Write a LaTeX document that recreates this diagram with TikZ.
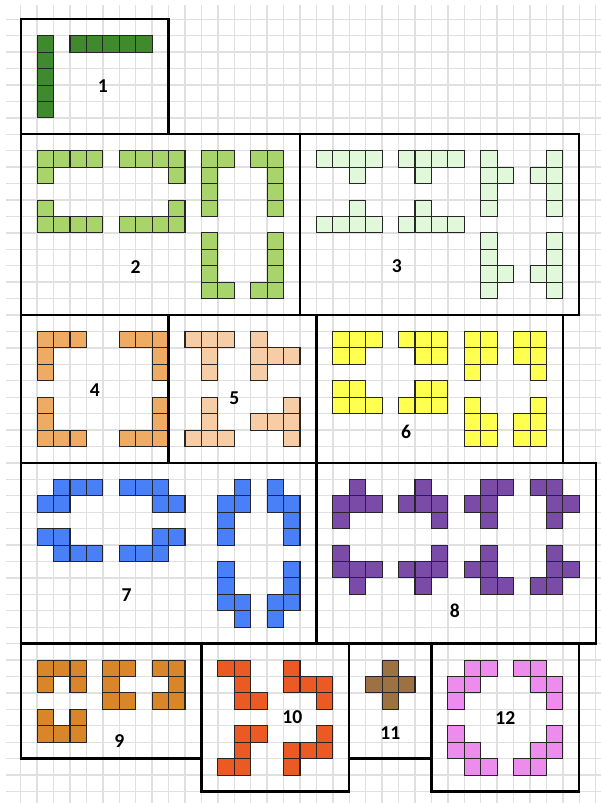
\documentclass[tikz,border=0pt]{standalone}
\usepackage{fontspec}
\setmainfont{Carlito}
\usepackage{xcolor}
\usepackage{tikz}
\usetikzlibrary{positioning}

\definecolor{pcOne}{HTML}{3E8A2C}
\definecolor{pcTwo}{HTML}{A9D36B}
\definecolor{pcThree}{HTML}{E2F8DA}
\definecolor{pcFour}{HTML}{EEAB64}
\definecolor{pcFive}{HTML}{F6CDA6}
\definecolor{pcSix}{HTML}{FFFF4F}
\definecolor{pcSeven}{HTML}{4A80F7}
\definecolor{pcEight}{HTML}{7A4CA8}
\definecolor{pcNine}{HTML}{D9862A}
\definecolor{pcTen}{HTML}{EC5A24}
\definecolor{pcEleven}{HTML}{9C7243}
\definecolor{pcTwelve}{HTML}{EE8CEE}

\begin{document}
\begin{tikzpicture}[x=0.5cm, y=-0.5cm,
    gridline/.style={line width=1.2pt, black!12},
    framebox/.style={line width=2pt, black},
    cellbox/.style={line width=0.9pt, draw=black!85},
    boxlabel/.style={font=\fontsize{17}{17}\selectfont\bfseries, inner sep=0pt}]

  \useasboundingbox (-1.26,-1.175) rectangle (35.32,47.70);

  %% ── Background grid ────────────────────────────────────────
  \foreach \r in {0,...,47}
    \draw[gridline] (-0.9,\r) -- (35.32,\r);
  \foreach \c in {0,...,35}
    \draw[gridline] (\c,-0.87) -- (\c,47.70);

  %% ── Box 1: I pieces ────────────────────────────────────────
  \foreach \c/\r in {1/1,1/2,1/3,1/4,1/5, 3/1,4/1,5/1,6/1,7/1}
    \filldraw[cellbox, fill=pcOne] (\c,\r) rectangle ++(1,1);
  \node[boxlabel] (lab1) at (5.0,4.06) {1};

  %% ── Box 2: L pieces ────────────────────────────────────────
  \foreach \c/\r in {1/8,2/8,3/8,4/8,1/9,  6/8,7/8,8/8,9/8,9/9,
                     1/11,1/12,2/12,3/12,4/12,  9/11,6/12,7/12,8/12,9/12,
                     11/8,12/8,11/9,11/10,11/11,  14/8,15/8,15/9,15/10,15/11,
                     11/13,11/14,11/15,11/16,12/16,  15/13,15/14,15/15,15/16,14/16}
    \filldraw[cellbox, fill=pcTwo] (\c,\r) rectangle ++(1,1);
  \node[boxlabel] (lab2) at (7.0,15.05) {2};

  %% ── Box 3: Y pieces ────────────────────────────────────────
  \foreach \c/\r in {18/8,19/8,20/8,21/8,20/9,  23/8,24/8,25/8,26/8,24/9,
                     20/11,18/12,19/12,20/12,21/12,  24/11,23/12,24/12,25/12,26/12,
                     28/8,28/9,28/10,28/11,29/9,  32/8,32/9,32/10,32/11,31/9,
                     28/13,28/14,28/15,28/16,29/15,  32/13,32/14,32/15,32/16,31/15}
    \filldraw[cellbox, fill=pcThree] (\c,\r) rectangle ++(1,1);
  \node[boxlabel] (lab3) at (22.9,15.05) {3};

  %% ── Box 4: V pieces ────────────────────────────────────────
  \foreach \c/\r in {1/19,2/19,3/19,1/20,1/21,  6/19,7/19,8/19,8/20,8/21,
                     1/23,1/24,1/25,2/25,3/25,  8/23,8/24,8/25,7/25,6/25}
    \filldraw[cellbox, fill=pcFour] (\c,\r) rectangle ++(1,1);
  \node[boxlabel] (lab4) at (4.52,22.6) {4};

  %% ── Box 5: T pieces ────────────────────────────────────────
  \foreach \c/\r in {10/19,11/19,12/19,11/20,11/21,  14/19,14/20,14/21,15/20,16/20,
                     11/23,11/24,10/25,11/25,12/25,  16/23,16/24,16/25,14/24,15/24}
    \filldraw[cellbox, fill=pcFive] (\c,\r) rectangle ++(1,1);
  \node[boxlabel] (lab5) at (13.0,23.07) {5};

  %% ── Box 6: P pieces ────────────────────────────────────────
  \foreach \c/\r in {19/19,20/19,21/19,19/20,20/20,  23/19,24/19,25/19,24/20,25/20,
                     19/22,20/22,19/23,20/23,21/23,  24/22,25/22,23/23,24/23,25/23,
                     27/19,28/19,27/20,28/20,27/21,  30/19,31/19,30/20,31/20,31/21,
                     27/23,27/24,28/24,27/25,28/25,  31/23,30/24,31/24,30/25,31/25}
    \filldraw[cellbox, fill=pcSix] (\c,\r) rectangle ++(1,1);
  \node[boxlabel] (lab6) at (23.45,25.1) {6};

  %% ── Box 7: N pieces ────────────────────────────────────────
  \foreach \c/\r in {2/28,3/28,4/28,1/29,2/29,  6/28,7/28,8/28,8/29,9/29,
                     1/31,2/31,2/32,3/32,4/32,  8/31,9/31,6/32,7/32,8/32,
                     13/28,12/29,13/29,12/30,12/31,  15/28,15/29,16/29,16/30,16/31,
                     12/33,12/34,12/35,13/35,13/36,  16/33,16/34,15/35,16/35,15/36}
    \filldraw[cellbox, fill=pcSeven] (\c,\r) rectangle ++(1,1);
  \node[boxlabel] (lab7) at (6.45,35.04) {7};

  %% ── Box 8: F pieces ────────────────────────────────────────
  \foreach \c/\r in {20/28,19/29,20/29,21/29,19/30,  24/28,23/29,24/29,25/29,25/30,
                     28/28,29/28,27/29,28/29,28/30,  31/28,32/28,32/29,33/29,32/30,
                     19/32,19/33,20/33,21/33,20/34,  25/32,23/33,24/33,25/33,24/34,
                     28/32,27/33,28/33,28/34,29/34,  32/32,32/33,33/33,31/34,32/34}
    \filldraw[cellbox, fill=pcEight] (\c,\r) rectangle ++(1,1);
  \node[boxlabel] (lab8) at (26.43,36.0) {8};

  %% ── Box 9: U pieces ────────────────────────────────────────
  \foreach \c/\r in {1/39,2/39,3/39,1/40,3/40,  5/39,6/39,5/40,5/41,6/41,
                     8/39,9/39,9/40,8/41,9/41,  1/42,3/42,1/43,2/43,3/43}
    \filldraw[cellbox, fill=pcNine] (\c,\r) rectangle ++(1,1);
  \node[boxlabel] (lab9) at (6.0,43.9) {9};

  %% ── Box 10: Z pieces ───────────────────────────────────────
  \foreach \c/\r in {12/39,13/39,13/40,13/41,14/41,  16/39,16/40,17/40,18/40,18/41,
                     13/43,14/43,13/44,12/45,13/45,  18/43,16/44,17/44,18/44,16/45}
    \filldraw[cellbox, fill=pcTen] (\c,\r) rectangle ++(1,1);
  \node[boxlabel] (lab10) at (16.53,42.5) {10};

  %% ── Box 11: X piece ────────────────────────────────────────
  \foreach \c/\r in {22/39,21/40,22/40,23/40,22/41}
    \filldraw[cellbox, fill=pcEleven] (\c,\r) rectangle ++(1,1);
  \node[boxlabel] (lab11) at (22.5,43.45) {11};

  %% ── Box 12: W pieces ───────────────────────────────────────
  \foreach \c/\r in {27/39,28/39,26/40,27/40,26/41,  30/39,31/39,31/40,32/40,32/41,
                     26/43,26/44,27/44,27/45,28/45,  32/43,31/44,32/44,30/45,31/45}
    \filldraw[cellbox, fill=pcTwelve] (\c,\r) rectangle ++(1,1);
  \node[boxlabel] (lab12) at (29.5,42.5) {12};

  %% ── Frames ─────────────────────────────────────────────────
  \draw[framebox] (0,0) rectangle (9,7);
  \draw[framebox] (0,7) rectangle (17,18);
  \draw[framebox] (17,7) rectangle (34,18);
  \draw[framebox] (0,18) rectangle (9,27);
  \draw[framebox] (9,18) rectangle (18,27);
  \draw[framebox] (18,18) rectangle (33,27);
  \draw[framebox] (0,27) rectangle (18,38);
  \draw[framebox] (18,27) rectangle (35,38);
  \draw[framebox] (0,38) rectangle (11,45);
  \draw[framebox] (11,38) rectangle (20,47);
  \draw[framebox] (20,38) rectangle (25,45);
  \draw[framebox] (25,38) rectangle (34,47);

\end{tikzpicture}
\end{document}
